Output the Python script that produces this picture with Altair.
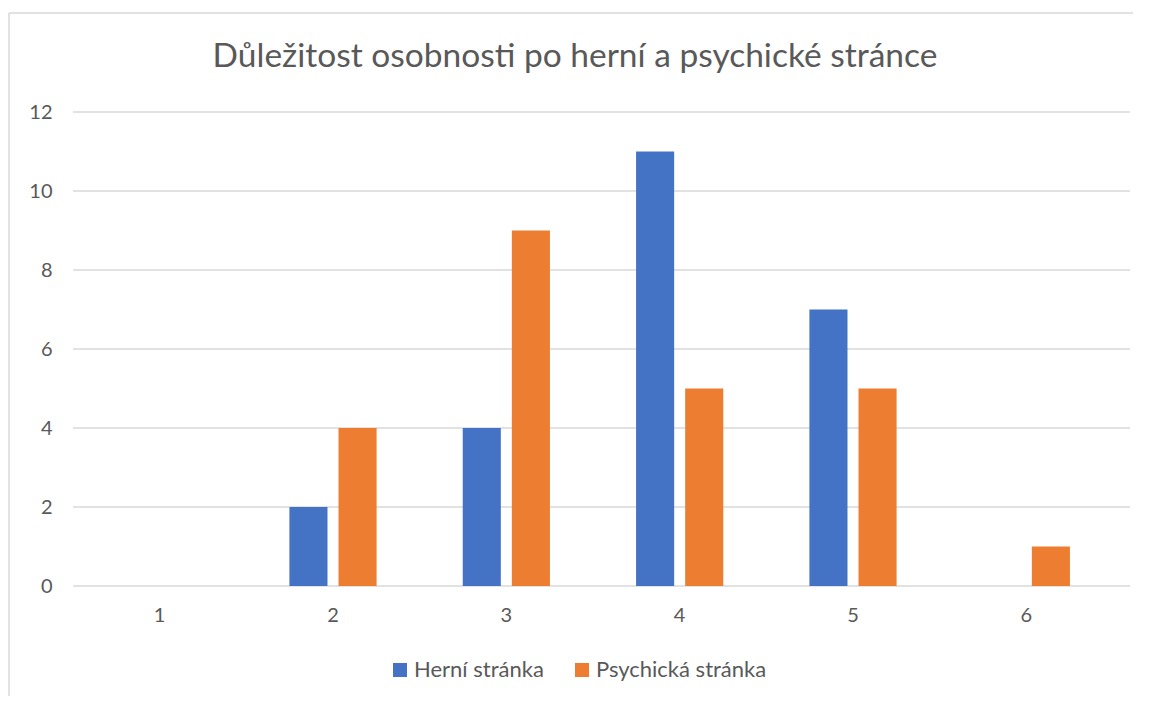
import altair as alt
import pandas as pd

categories = ["1", "2", "3", "4", "5", "6"]
series_names = ["Herní stránka", "Psychická stránka"]
herni = [0, 2, 4, 11, 7, 0]
psychicka = [0, 4, 9, 5, 5, 1]
y_ticks = [0, 2, 4, 6, 8, 10, 12]
colors = ["#4472C4", "#ED7D31"]
title_text = ["Důležitost osobnosti po herní a psychické stránce"]

rows = []
for c, h, p in zip(categories, herni, psychicka):
    rows.append({"kat": c, "serie": series_names[0], "hodnota": h})
    rows.append({"kat": c, "serie": series_names[1], "hodnota": p})
df = pd.DataFrame(rows)
grid_df = pd.DataFrame({"v": y_ticks})
title_df = pd.DataFrame({"t": title_text})

FONT = "Lato"
GRAY = "#595959"
BORDER = "#d9d9d9"

yscale = alt.Scale(domain=[0, 12], nice=False)

frame_left = alt.Chart(title_df).mark_rule(color=BORDER, strokeWidth=1.5).encode(
    x=alt.value(-64), y=alt.value(-99), y2=alt.value(700)
)
frame_top = alt.Chart(title_df).mark_rule(color=BORDER, strokeWidth=1.5).encode(
    x=alt.value(-64), x2=alt.value(1200), y=alt.value(-99)
)

title = alt.Chart(title_df).mark_text(
    font=FONT, fontSize=33.5, color=GRAY, align="center", baseline="alphabetic"
).encode(text="t:N", x=alt.value(502), y=alt.value(-45))

grid = alt.Chart(grid_df).mark_rule(color=BORDER, strokeWidth=1.5).encode(
    y=alt.Y("v:Q", scale=yscale, axis=alt.Axis(
        values=y_ticks, title=None, grid=False, domain=False, ticks=False,
        labelFont=FONT, labelFontSize=20, labelColor=GRAY, labelPadding=21)),
    x=alt.value(0), x2=alt.value(1057),
)

bars = alt.Chart(df).mark_bar().encode(
    x=alt.X("kat:N", sort=categories,
            scale=alt.Scale(paddingInner=0, paddingOuter=0),
            axis=alt.Axis(title=None, labelAngle=0, domain=False, ticks=False,
                          grid=False,
                          labelFont=FONT, labelFontSize=20, labelColor=GRAY,
                          labelPadding=19)),
    xOffset=alt.XOffset("serie:N", sort=series_names,
                        scale=alt.Scale(paddingInner=0.2245, paddingOuter=0.877)),
    y=alt.Y("hodnota:Q", scale=yscale),
    color=alt.Color("serie:N", sort=series_names,
                    scale=alt.Scale(domain=series_names, range=colors),
                    legend=alt.Legend(orient="none", legendX=316, legendY=547,
                                      direction="horizontal", title=None,
                                      symbolType="square", symbolSize=196,
                                      symbolStrokeWidth=0, labelLimit=400,
                                      labelFont=FONT, labelFontSize=22,
                                      labelColor=GRAY, labelOffset=3,
                                      columnPadding=27)),
)

chart = alt.layer(frame_left, frame_top, title, grid, bars).properties(
    width=1040,
    height=474,
    background="white",
    autosize=alt.AutoSizeParams(type="none"),
    padding={"left": 65, "top": 104, "right": 20, "bottom": 110},
).configure_view(strokeWidth=0, stroke="transparent")

chart.save("out.html", embed_options={"renderer": "svg", "actions": False})
